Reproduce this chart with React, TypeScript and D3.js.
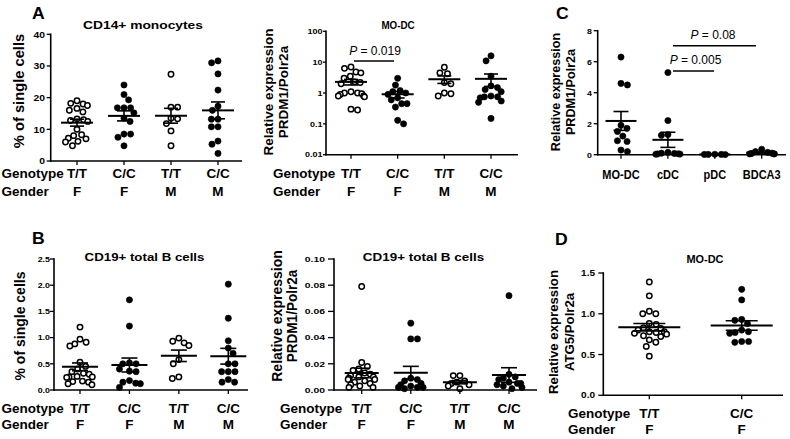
import React from 'react';
import * as d3 from 'd3';

const FONT = '"Liberation Sans", Arial, Helvetica, sans-serif';

// ---------- DATA ----------
const genotypeLabels = ['T/T', 'C/C', 'T/T', 'C/C'];
const genderLabels = ['F', 'F', 'M', 'M'];
const cCategories = ['MO-DC', 'cDC', 'pDC', 'BDCA3'];
const dGenotypeLabels = ['T/T', 'C/C'];
const dGenderLabels = ['F', 'F'];

// A: CD14+ monocytes, % of single cells
const a1TT_F = [19, 18.2, 18, 17.5, 16.6, 16, 15.5, 13.3, 13, 12.8, 12.5, 10, 8.3, 8, 7.2, 7, 6.2, 6, 4.8];
const a1CC_F = [24, 21, 19.3, 16.8, 16.8, 16.8, 15.2, 13.5, 12.5, 8.5, 8.5, 7.5, 4.8];
const a1TT_M = [27.4, 17, 17, 13.5, 13.3, 11.8, 9.5, 4.8];
const a1CC_M = [31.6, 31, 27.5, 22.4, 17.3, 16, 13.2, 13.2, 10.8, 10.8, 6.3, 5.3, 2.4];
const a1Ticks = [0, 10, 20, 30, 40];

// A: MO-DC, PRDM1/Polr2a (log)
const a2TT_F = [7, 6.3, 4.8, 4.5, 3.5, 3, 2.3, 2.2, 2, 1.1, 1.0, 1.0, 0.95, 0.9, 0.8, 0.8, 0.75, 0.3, 0.28];
const a2CC_F = [3.0, 1.8, 1.2, 1.1, 1.0, 0.9, 0.7, 0.6, 0.45, 0.45, 0.35, 0.13, 0.1];
const a2TT_M = [6.8, 4.5, 4.2, 2.2, 2.0, 1.0, 0.95, 0.8];
const a2CC_M = [16, 11, 3.5, 1.7, 1.5, 1.3, 1.1, 0.8, 0.75, 0.75, 0.7, 0.55, 0.5, 0.15];
const a2Ticks = [0.01, 0.1, 1, 10, 100];
const a2TickLabels = ['0.01', '0.1', '1', '10', '100'];

// C: PRDM1/Polr2a per DC subset
const cMODC = [6.3, 4.6, 4.5, 1.9, 1.7, 1.5, 1.2, 0.9, 0.85, 0.3, 0.2];
const cCDC = [5.3, 2.2, 1.3, 1.25, 0.15, 0.1, 0.08, 0.06, 0.05, 0.04, 0.03];
const cPDC = [0.03, 0.02, 0.02, 0.015, 0.01];
const cBDCA3 = [0.35, 0.2, 0.15, 0.1, 0.08, 0.06, 0.05, 0.05];
const cTicks = [0, 2, 4, 6, 8];

// B: CD19+ total B cells, % of single cells
const b1TT_F = [1.2, 0.97, 0.91, 0.88, 0.84, 0.53, 0.45, 0.4, 0.35, 0.32, 0.3, 0.26, 0.25, 0.25, 0.24, 0.17, 0.16, 0.15, 0.12, 0.1];
const b1CC_F = [1.72, 1.22, 0.52, 0.5, 0.5, 0.4, 0.36, 0.35, 0.18, 0.15, 0.13, 0.12, 0.05];
const b1TT_M = [0.99, 0.93, 0.9, 0.85, 0.58, 0.5, 0.25, 0.22];
const b1CC_M = [2.02, 1.37, 0.94, 0.8, 0.7, 0.5, 0.5, 0.35, 0.35, 0.35, 0.2, 0.15, 0.15];
const b1Ticks = [0, 0.5, 1, 1.5, 2, 2.5];

// B: CD19+ total B cells, PRDM1/Polr2a
const b2TT_F = [0.079, 0.021, 0.018, 0.016, 0.015, 0.013, 0.012, 0.011, 0.01, 0.01, 0.009, 0.008, 0.008, 0.007, 0.006, 0.005, 0.004, 0.003, 0.002, 0.002];
const b2CC_F = [0.051, 0.039, 0.039, 0.009, 0.008, 0.007, 0.005, 0.004, 0.003, 0.002, 0.002, 0.002, 0.001];
const b2TT_M = [0.011, 0.011, 0.007, 0.006, 0.005, 0.004, 0.003, 0.001];
const b2CC_M = [0.072, 0.012, 0.01, 0.009, 0.008, 0.006, 0.005, 0.005, 0.004, 0.003, 0.002, 0.001];
const b2Ticks = [0, 0.02, 0.04, 0.06, 0.08, 0.1];

// D: MO-DC, ATG5/Polr2a
const dTT_F = [1.39, 1.22, 1.03, 1.0, 1.0, 0.88, 0.87, 0.83, 0.82, 0.8, 0.78, 0.78, 0.77, 0.76, 0.75, 0.73, 0.72, 0.68, 0.65, 0.6, 0.48];
const dCC_F = [1.3, 1.17, 0.93, 0.92, 0.88, 0.8, 0.78, 0.77, 0.76, 0.66, 0.65, 0.66];
const dTicks = [0, 0.5, 1, 1.5];

// ---------- HELPERS ----------
function T({ x, y, size, sx = 1, anchor = 'start', weight = 'bold', rotate = 0, children }: any) {
  return (
    <text
      transform={`translate(${x},${y}) rotate(${rotate}) scale(${sx},1)`}
      fontSize={size}
      fontWeight={weight}
      textAnchor={anchor}
      fontFamily={FONT}
      fill="#000"
    >
      {children}
    </text>
  );
}

function swarm(ys: number[], D: number, maxSpread: number): number[] {
  const order = ys.map((_, i) => i).sort((a, b) => ys[a] - ys[b]);
  const placed: { x: number; y: number }[] = [];
  const xs = new Array(ys.length).fill(0);
  let flip = 1;
  for (const i of order) {
    const y = ys[i];
    const blocked: [number, number][] = [];
    for (const p of placed) {
      const dy = Math.abs(p.y - y);
      if (dy < D) {
        const w = Math.sqrt(D * D - dy * dy);
        blocked.push([p.x - w, p.x + w]);
      }
    }
    const cands = [0];
    for (const [a, b] of blocked) cands.push(a, b);
    cands.sort((a, b) => Math.abs(a) - Math.abs(b) || (flip > 0 ? b - a : a - b));
    let best = 0;
    for (const c of cands) {
      if (blocked.every(([a, b]) => c <= a + 1e-6 || c >= b - 1e-6)) {
        best = c;
        break;
      }
    }
    flip = -flip;
    xs[i] = best;
    placed.push({ x: best, y });
  }
  // soft compression of wide rows
  return xs.map((x) => Math.sign(x) * maxSpread * Math.tanh(Math.abs(x) / maxSpread));
}

type Group = { key: string; values: number[]; open: boolean };

function Panel({ cfg }: any) {
  const {
    axisX, xEnd, yTop, yBot, domain, log, cat0, cat1, groups, meanW, capW,
    tickLen, labelEnd, tickSize, tickSx, ticks, tickLabels, spread,
  } = cfg;
  const y: any = log
    ? d3.scaleLog().domain(domain).range([yBot, yTop])
    : d3.scaleLinear().domain(domain).range([yBot, yTop]);
  const x = d3.scalePoint<string>().domain(groups.map((g: Group) => g.key)).range([cat0, cat1]);
  const r = 3.1;
  return (
    <g>
      {groups.map((g: Group) => {
        const cx = x(g.key) as number;
        const ys = g.values.map((v) => y(v));
        const offs = swarm(ys, 2 * r + 1.0, spread);
        const mean = d3.mean(g.values) as number;
        const sd = d3.deviation(g.values) as number;
        const sem = sd / Math.sqrt(g.values.length);
        const yM = y(mean);
        const yHi = y(mean + sem);
        const yLo = y(Math.max(mean - sem, log ? domain[0] : -Infinity));
        return (
          <g key={g.key}>
            {g.values.map((v, i) => (
              <circle
                key={i}
                cx={cx + offs[i]}
                cy={ys[i]}
                r={g.open ? r - 0.4 : r}
                fill={g.open ? '#fff' : '#000'}
                stroke="#000"
                strokeWidth={g.open ? 1.5 : 0.6}
              />
            ))}
            <line x1={cx - meanW} x2={cx + meanW} y1={yM} y2={yM} stroke="#000" strokeWidth={2} />
            <line x1={cx} x2={cx} y1={yHi} y2={yLo} stroke="#000" strokeWidth={1.6} />
            <line x1={cx - capW} x2={cx + capW} y1={yHi} y2={yHi} stroke="#000" strokeWidth={1.6} />
            <line x1={cx - capW} x2={cx + capW} y1={yLo} y2={yLo} stroke="#000" strokeWidth={1.6} />
          </g>
        );
      })}
      <line x1={axisX} x2={axisX} y1={yTop - 0.8} y2={yBot + 0.8} stroke="#000" strokeWidth={1.6} />
      <line x1={axisX - 0.8} x2={xEnd} y1={yBot} y2={yBot} stroke="#000" strokeWidth={1.6} />
      {ticks.map((t: number, i: number) => (
        <g key={i}>
          <line x1={axisX - tickLen} x2={axisX} y1={y(t)} y2={y(t)} stroke="#000" strokeWidth={1.3} />
          <T x={labelEnd} y={y(t) + tickSize * 0.36} size={tickSize} sx={tickSx} anchor="end">
            {tickLabels[i]}
          </T>
        </g>
      ))}
      {groups.map((g: Group) => (
        <line key={g.key} x1={x(g.key)} x2={x(g.key)} y1={yBot} y2={yBot + 4} stroke="#000" strokeWidth={1.3} />
      ))}
    </g>
  );
}

function mkGroups(keys: string[], arrays: number[][], open: boolean[]): Group[] {
  return keys.map((k, i) => ({ key: k, values: arrays[i], open: open[i] }));
}

const keys4 = genotypeLabels.map((g, i) => `${g} ${genderLabels[i]}`);
const open4 = genotypeLabels.map((g) => g === 'T/T');

function CatRows({ xs, label0x, y1, y2, size = 12.5, sx = 1.08, rows }: any) {
  return (
    <g>
      <T x={label0x} y={y1} size={size} sx={sx}>Genotype</T>
      <T x={label0x} y={y2} size={size} sx={sx}>Gender</T>
      {xs.map((cx: number, i: number) => (
        <g key={i}>
          <T x={cx} y={y1} size={size} sx={sx} anchor="middle">{rows[0][i]}</T>
          <T x={cx} y={y2} size={size} sx={sx} anchor="middle">{rows[1][i]}</T>
        </g>
      ))}
    </g>
  );
}

function catPositions(n: number, a: number, b: number) {
  const s = d3.scalePoint<number>().domain(d3.range(n)).range([a, b]);
  return d3.range(n).map((i) => s(i) as number);
}

export default function App() {
  const fmt1 = d3.format('.1f');
  const fmt2 = d3.format('.2f');

  const A1 = {
    axisX: 50.7, xEnd: 242, yTop: 34.3, yBot: 161, domain: [0, 40], log: false,
    cat0: 77, cat1: 218, meanW: 16, capW: 7, tickLen: 4, labelEnd: 45, tickSize: 9, tickSx: 1.15, spread: 14,
    ticks: a1Ticks, tickLabels: a1Ticks.map(String),
    groups: mkGroups(keys4, [a1TT_F, a1CC_F, a1TT_M, a1CC_M], open4),
  };
  const A2 = {
    axisX: 326, xEnd: 518, yTop: 31.3, yBot: 154.7, domain: [0.01, 100], log: true,
    cat0: 351, cat1: 491, meanW: 16, capW: 7, tickLen: 3, labelEnd: 322.5, tickSize: 7.5, tickSx: 1.2, spread: 14,
    ticks: a2Ticks, tickLabels: a2TickLabels,
    groups: mkGroups(keys4, [a2TT_F, a2CC_F, a2TT_M, a2CC_M], open4),
  };
  const C = {
    axisX: 597.7, xEnd: 786, yTop: 30.7, yBot: 154.7, domain: [0, 8], log: false,
    cat0: 621, cat1: 761.7, meanW: 15.5, capW: 7.5, tickLen: 4, labelEnd: 592, tickSize: 8, tickSx: 1.1, spread: 13,
    ticks: cTicks, tickLabels: cTicks.map(String),
    groups: mkGroups(cCategories, [cMODC, cCDC, cPDC, cBDCA3], [false, false, false, false]),
  };
  const B1 = {
    axisX: 54, xEnd: 248, yTop: 259, yBot: 390, domain: [0, 2.5], log: false,
    cat0: 80, cat1: 228.3, meanW: 18, capW: 8, tickLen: 4, labelEnd: 50, tickSize: 7.5, tickSx: 1.18, spread: 15,
    ticks: b1Ticks, tickLabels: b1Ticks.map(fmt1),
    groups: mkGroups(keys4, [b1TT_F, b1CC_F, b1TT_M, b1CC_M], open4),
  };
  const B2 = {
    axisX: 334, xEnd: 537, yTop: 259, yBot: 390, domain: [0, 0.1], log: false,
    cat0: 361.7, cat1: 509, meanW: 17, capW: 8, tickLen: 6, labelEnd: 325, tickSize: 8, tickSx: 1.3, spread: 14,
    ticks: b2Ticks, tickLabels: b2Ticks.map(fmt2),
    groups: mkGroups(keys4, [b2TT_F, b2CC_F, b2TT_M, b2CC_M], open4),
  };
  const D = {
    axisX: 603.3, xEnd: 783, yTop: 273, yBot: 395.3, domain: [0, 1.5], log: false,
    cat0: 649.3, cat1: 741.7, meanW: 31, capW: 16, tickLen: 5, labelEnd: 595, tickSize: 8.5, tickSx: 1.18, spread: 20,
    ticks: dTicks, tickLabels: dTicks.map(fmt1),
    groups: mkGroups(['T/T F', 'C/C F'], [dTT_F, dCC_F], [true, false]),
  };

  return (
    <svg
      width={790}
      height={439}
      viewBox="0 0 790 439"
      style={{ position: 'absolute', left: 0, top: 0, background: '#fff', display: 'block' }}
    >
      <rect x={0} y={0} width={790} height={439} fill="#fff" />

      {/* Panel letters */}
      <T x={32} y={18.5} size={16} sx={1.1}>A</T>
      <T x={32} y={243.5} size={16} sx={1.1}>B</T>
      <T x={556} y={18.5} size={16} sx={1.1}>C</T>
      <T x={555} y={245} size={16} sx={1.1}>D</T>

      {/* Titles */}
      <T x={143} y={29} size={11.5} sx={1.2} anchor="middle">CD14+ monocytes</T>
      <T x={398} y={29} size={10} sx={0.98} anchor="middle">MO-DC</T>
      <T x={144.5} y={261} size={11.5} sx={1.155} anchor="middle">CD19+ total B cells</T>
      <T x={423.5} y={261} size={11.5} sx={1.17} anchor="middle">CD19+ total B cells</T>
      <T x={705} y={263} size={10.5} sx={1.04} anchor="middle">MO-DC</T>

      {/* Y axis labels */}
      <T x={23.5} y={91} size={14} sx={1.05} rotate={-90} anchor="middle">% of single cells</T>
      <T x={273} y={92} size={13.5} rotate={-90} anchor="middle">Relative expression</T>
      <T x={288} y={92} size={13.5} rotate={-90} anchor="middle">PRDM1/Polr2a</T>
      <T x={559.5} y={92} size={12.6} rotate={-90} anchor="middle">Relative expression</T>
      <T x={574.5} y={92} size={12.6} rotate={-90} anchor="middle">PRDM1/Polr2a</T>
      <T x={25} y={326} size={14} rotate={-90} anchor="middle">% of single cells</T>
      <T x={281.5} y={316} size={14} rotate={-90} anchor="middle">Relative expression</T>
      <T x={297} y={316} size={14} sx={0.97} rotate={-90} anchor="middle">PRDM1/Polr2a</T>
      <T x={558} y={332} size={13.2} rotate={-90} anchor="middle">Relative expression</T>
      <T x={574} y={332} size={13.2} rotate={-90} anchor="middle">ATG5/Polr2a</T>

      <Panel cfg={A1} />
      <Panel cfg={A2} />
      <Panel cfg={C} />
      <Panel cfg={B1} />
      <Panel cfg={B2} />
      <Panel cfg={D} />

      {/* Significance annotations */}
      <line x1={354} x2={394} y1={61} y2={61} stroke="#000" strokeWidth={1.5} />
      <text x={375} y={55} fontSize={12} fontFamily={FONT} textAnchor="middle" fill="#000">
        <tspan fontStyle="italic">P</tspan> = 0.019
      </text>
      <line x1={673} x2={756} y1={45.7} y2={45.7} stroke="#000" strokeWidth={1.5} />
      <text x={713} y={39} fontSize={12} fontFamily={FONT} textAnchor="middle" fill="#000">
        <tspan fontStyle="italic">P</tspan> = 0.08
      </text>
      <line x1={673} x2={714} y1={71} y2={71} stroke="#000" strokeWidth={1.5} />
      <text x={695.5} y={64} fontSize={12} fontFamily={FONT} textAnchor="middle" fill="#000">
        <tspan fontStyle="italic">P</tspan> = 0.005
      </text>

      {/* Category rows */}
      <CatRows xs={catPositions(4, 77, 218)} label0x={1.5} y1={177.5} y2={195.5} rows={[genotypeLabels, genderLabels]} />
      <CatRows xs={catPositions(4, 351, 491)} label0x={273} y1={177.5} y2={195.5} rows={[genotypeLabels, genderLabels]} />
      <CatRows xs={catPositions(4, 80, 228.3)} label0x={1.5} y1={412.5} y2={429} rows={[genotypeLabels, genderLabels]} />
      <CatRows xs={catPositions(4, 361.7, 509)} label0x={280} y1={413} y2={429} rows={[genotypeLabels, genderLabels]} />
      <CatRows xs={catPositions(2, 649.3, 741.7)} label0x={568} y1={418} y2={434} rows={[dGenotypeLabels, dGenderLabels]} />
      {catPositions(4, 621, 761.7).map((cx, i) => (
        <T key={i} x={cx} y={179} size={12.5} sx={0.88} anchor="middle">{cCategories[i]}</T>
      ))}
    </svg>
  );
}
